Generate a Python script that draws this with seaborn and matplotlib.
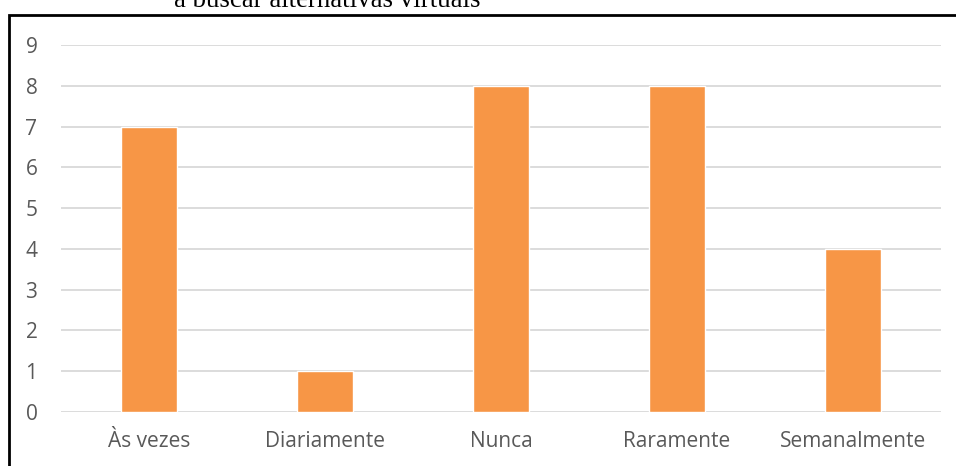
import matplotlib
matplotlib.use("Agg")
import matplotlib.pyplot as plt
import seaborn as sns
import pandas as pd
from matplotlib.patches import Rectangle

categories = ["Às vezes", "Diariamente", "Nunca", "Raramente", "Semanalmente"]
values = [7, 1, 8, 8, 4]
yticks = [0, 1, 2, 3, 4, 5, 6, 7, 8, 9]
title_text = "a buscar alternativas virtuais"

sns.set_theme(style="white")
plt.rcParams['font.family'] = ['Open Sans', 'DejaVu Sans']

df = pd.DataFrame({"cat": categories, "val": values})

W, H = 956, 466
fig = plt.figure(figsize=(W / 100, H / 100), dpi=100)
ax = fig.add_axes([61 / W, 1 - 412 / H, (941 - 61) / W, (412 - 45) / H])

sns.barplot(data=df, x="cat", y="val", color="#F79646", width=0.32,
            saturation=1, ax=ax, zorder=3)

ax.set_ylim(0, 9)
ax.set_yticks(yticks)
ax.set_xlim(-0.5, len(categories) - 0.5)
ax.grid(axis="y", color="#d9d9d9", linewidth=1.3, zorder=0)
ax.grid(axis="x", visible=False)
for s in ax.spines.values():
    s.set_visible(False)
ax.set_xlabel("")
ax.set_ylabel("")
ax.tick_params(axis="both", length=0, colors="#595959", labelsize=15)
ax.tick_params(axis="x", pad=14)
ax.tick_params(axis="y", pad=17)

# outer border
fig.patches.append(Rectangle((8.5 / W, -0.1), 1.2, 1 - 15.5 / H + 0.1,
                             transform=fig.transFigure, fill=False,
                             edgecolor="black", linewidth=2, zorder=10))

fig.text(327 / W, 1 - 7 / H, title_text, ha="center", va="baseline",
         fontsize=19.4, family=["Liberation Serif"], color="black")

fig.savefig("out.png", dpi=100)
